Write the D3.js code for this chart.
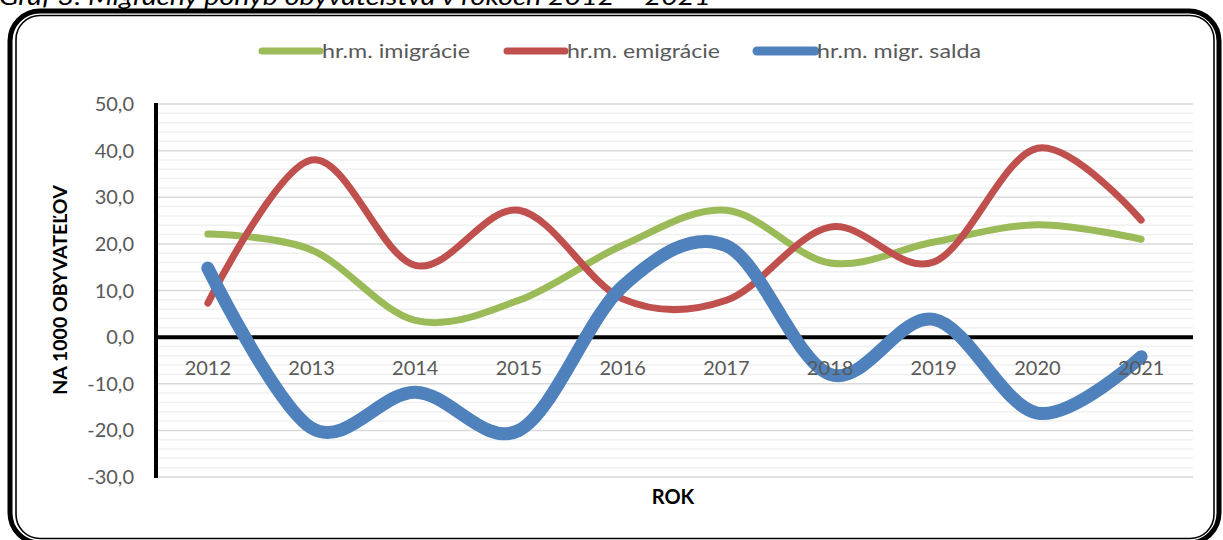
<!DOCTYPE html>
<html>
<head>
<meta charset="utf-8">
<script src="https://cdn.jsdelivr.net/npm/d3@7"></script>
<style>
  body { margin: 0; background: #fff; }
  svg { display: block; }
  text { font-family: Lato, "Open Sans", sans-serif; }
</style>
</head>
<body>
<svg id="chart" width="1223" height="540"></svg>
<script>
// data
const years = ["2012", "2013", "2014", "2015", "2016", "2017", "2018", "2019", "2020", "2021"];
const imigracie = [22.1, 18.7, 3.6, 7.9, 19.7, 27.2, 15.9, 20.4, 24.1, 21.0];
const emigracie = [7.3, 38.0, 15.4, 27.2, 8.2, 7.9, 23.6, 16.1, 40.5, 25.1];
const saldo = [14.8, -19.5, -11.8, -20.0, 10.9, 19.6, -8.0, 3.8, -16.3, -4.2];
const seriesNames = ["hr.m. imigrácie", "hr.m. emigrácie", "hr.m. migr. salda"];
const yTicks = [50, 40, 30, 20, 10, 0, -10, -20, -30];

const plot = { left: 156, right: 1193, top: 104, bottom: 477 };

const svg = d3.select("#chart");

// title, cut at the top of the picture
svg.append("text")
    .attr("x", -1)
    .attr("y", 5)
    .attr("font-size", 23)
    .attr("font-style", "italic")
    .attr("fill", "#000")
    .attr("textLength", 712)
    .attr("lengthAdjust", "spacingAndGlyphs")
    .text("Graf 3: Migračný pohyb obyvateľstva v rokoch 2012 – 2021");

// double frame
svg.append("rect")
    .attr("x", 10).attr("y", 11)
    .attr("width", 1209).attr("height", 532)
    .attr("rx", 30).attr("ry", 30)
    .attr("fill", "#fff")
    .attr("stroke", "#000").attr("stroke-width", 5);
svg.append("rect")
    .attr("x", 16).attr("y", 15.5)
    .attr("width", 1198).attr("height", 523)
    .attr("rx", 24).attr("ry", 24)
    .attr("fill", "none")
    .attr("stroke", "#000").attr("stroke-width", 1.6);

const x = d3.scaleBand().domain(years).range([plot.left, plot.right]);
const y = d3.scaleLinear().domain([-30, 50]).range([plot.bottom, plot.top]);

// grid: minor every 2, major every 10
const g = svg.append("g");
g.selectAll("line.minor")
    .data(d3.range(-30, 50, 2).filter(v => v % 10 !== 0))
    .join("line")
    .attr("x1", plot.left).attr("x2", plot.right)
    .attr("y1", d => y(d)).attr("y2", d => y(d))
    .attr("stroke", "#f0f0f0").attr("stroke-width", 1.5);
g.selectAll("line.major")
    .data(yTicks)
    .join("line")
    .attr("x1", plot.left).attr("x2", plot.right)
    .attr("y1", d => y(d)).attr("y2", d => y(d))
    .attr("stroke", "#d9d9d9").attr("stroke-width", 1.5);

// y tick labels
svg.append("g").selectAll("text")
    .data(yTicks)
    .join("text")
    .attr("x", 134)
    .attr("y", d => y(d))
    .attr("dy", "0.35em")
    .attr("text-anchor", "end")
    .attr("font-size", 20)
    .attr("fill", "#595959")
    .text(d => d3.format(".1f")(d).replace(".", ",").replace("−", "-"));

// axis lines
svg.append("line")
    .attr("x1", plot.left).attr("x2", plot.left)
    .attr("y1", plot.top - 1).attr("y2", plot.bottom + 1)
    .attr("stroke", "#000").attr("stroke-width", 4);
svg.append("line")
    .attr("x1", plot.left).attr("x2", plot.right)
    .attr("y1", y(0)).attr("y2", y(0))
    .attr("stroke", "#000").attr("stroke-width", 4);

// series
const colors = ["#9bbb59", "#c0504d", "#4f81bd"];
const widths = [7, 7, 13];
const data = [imigracie, emigracie, saldo];
const line = d3.line()
    .x((d, i) => x(years[i]) + x.bandwidth() / 2)
    .y(d => y(d))
    .curve(d3.curveCardinal.tension(0));

data.forEach((vals, k) => {
  svg.append("path")
      .datum(vals)
      .attr("d", line)
      .attr("fill", "none")
      .attr("stroke", colors[k])
      .attr("stroke-width", widths[k])
      .attr("stroke-linecap", "round")
      .attr("stroke-linejoin", "round");
});

// category labels (drawn over the lines)
svg.append("g").selectAll("text")
    .data(years)
    .join("text")
    .attr("x", d => x(d) + x.bandwidth() / 2)
    .attr("y", 368)
    .attr("dy", "0.35em")
    .attr("text-anchor", "middle")
    .attr("font-size", 20)
    .attr("fill", "#595959")
    .text(d => d);

// axis titles
svg.append("text")
    .attr("transform", "translate(67,290) rotate(-90)")
    .attr("text-anchor", "middle")
    .attr("font-size", 19.5)
    .attr("font-weight", "bold")
    .attr("fill", "#000")
    .text("NA 1000 OBYVATEĽOV");
svg.append("text")
    .attr("x", 673).attr("y", 497)
    .attr("dy", "0.35em")
    .attr("text-anchor", "middle")
    .attr("font-size", 20)
    .attr("font-weight", "bold")
    .attr("fill", "#000")
    .text("ROK");

// legend
const legendX = [262, 507, 757];
const legendTextW = [148, 153, 164];
const legendW = [7, 7, 9];
const leg = svg.append("g").selectAll("g")
    .data(seriesNames)
    .join("g")
    .attr("transform", (d, i) => `translate(${legendX[i]},51)`);
leg.append("line")
    .attr("x1", 0).attr("x2", 58)
    .attr("stroke", (d, i) => colors[i])
    .attr("stroke-width", (d, i) => legendW[i])
    .attr("stroke-linecap", "round");
leg.append("text")
    .attr("x", 60)
    .attr("dy", "0.35em")
    .attr("font-size", 20)
    .attr("fill", "#595959")
    .attr("textLength", (d, i) => legendTextW[i])
    .attr("lengthAdjust", "spacingAndGlyphs")
    .text(d => d);
</script>
</body>
</html>
